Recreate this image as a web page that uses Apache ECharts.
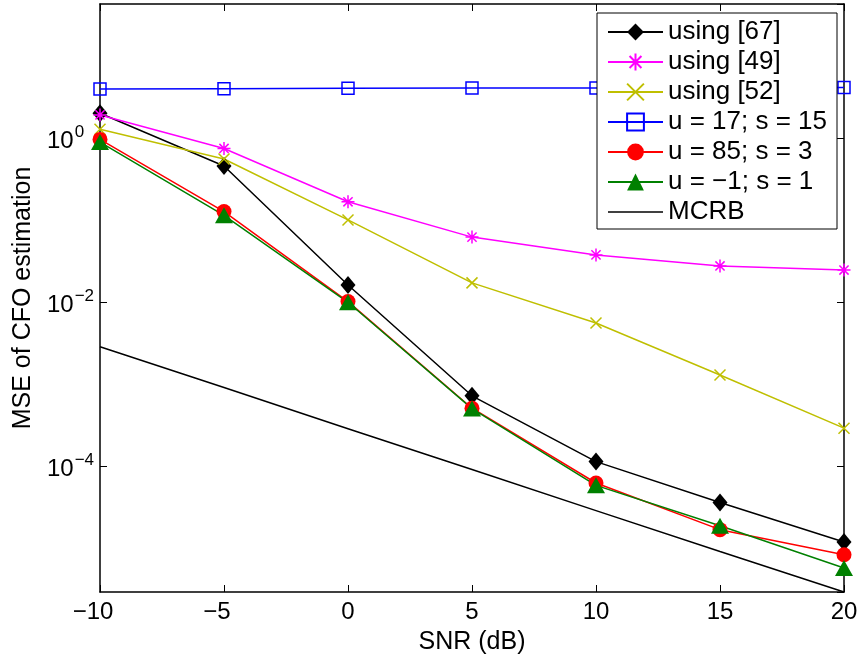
<!DOCTYPE html>
<html>
<head>
<meta charset="utf-8">
<script src="https://cdn.jsdelivr.net/npm/echarts@6/dist/echarts.min.js"></script>
<style>
html,body{margin:0;padding:0;background:#fff;}
#chart{width:861px;height:660px;}
</style>
</head>
<body>
<div id="chart"></div>
<script>
// ---- data ----
const snr = [-10, -5, 0, 5, 10, 15, 20];
const using67 = [2.04, 0.464, 0.0164, 7.3e-4, 1.15e-4, 3.64e-5, 1.2e-5];
const using49 = [1.95, 0.76, 0.17, 0.063, 0.0382, 0.028, 0.025];
const using52 = [1.30, 0.565, 0.102, 0.0174, 0.00565, 0.00131, 2.94e-4];
const u17s15 = [4.03, 4.06, 4.12, 4.15, 4.16, 4.17, 4.2];
const u85s3 = [0.98, 0.129, 0.0103, 5.15e-4, 6.3e-5, 1.7e-5, 8.4e-6];
const um1s1 = [0.91, 0.116, 0.0101, 5.1e-4, 5.9e-5, 1.9e-5, 5.8e-6];
const mcrb = [2.9e-3, 9.2e-4, 2.9e-4, 9.2e-5, 2.9e-5, 9.2e-6, 2.95e-6];
const seriesNames = ['using [67]', 'using [49]', 'using [52]', 'u = 17; s = 15', 'u = 85; s = 3', 'u = \u22121; s = 1', 'MCRB'];
const xTicks = {min: -10, max: 20, interval: 5};
const yRange = {min: 2.95e-6, max: 43.95};

const FONT = 'Liberation Sans';
const pairs = arr => snr.map((x, i) => [x, arr[i]]);

const ASTER = 'path://M0,-10L0,10M-10,0L10,0M-7.07,-7.07L7.07,7.07M-7.07,7.07L7.07,-7.07';
const XMARK = 'path://M-10,-10L10,10M-10,10L10,-10';
const SQUARE = 'path://M-10,-10L10,-10L10,10L-10,10Z';
const LINEICON = 'path://M0,0L55,0L55,1.5L0,1.5Z';

function mk(name, arr, color, symbol, size, itemStyle) {
  return {
    name: name, type: 'line', data: pairs(arr),
    symbol: symbol, symbolSize: size, showSymbol: symbol !== 'none',
    lineStyle: {color: color, width: 1.5},
    itemStyle: Object.assign({color: color}, itemStyle || {}),
    emphasis: {disabled: true}, animation: false, z: 2
  };
}

const series = [
  mk(seriesNames[0], using67, '#000000', 'diamond', [15, 18]),
  mk(seriesNames[1], using49, '#ff00ff', ASTER, 13, {color: 'rgba(0,0,0,0)', borderColor: '#ff00ff', borderWidth: 1.5}),
  mk(seriesNames[2], using52, '#bfbf00', XMARK, 11, {color: 'rgba(0,0,0,0)', borderColor: '#bfbf00', borderWidth: 1.5}),
  mk(seriesNames[3], u17s15, '#0000ff', SQUARE, 12, {color: 'rgba(0,0,0,0)', borderColor: '#0000ff', borderWidth: 1.5}),
  mk(seriesNames[4], u85s3, '#ff0000', 'circle', 15),
  mk(seriesNames[5], um1s1, '#008000', 'triangle', [18, 16]),
  mk(seriesNames[6], mcrb, '#000000', 'none', 0)
];

const legendData = seriesNames.map(n => n === 'MCRB' ? {name: n, icon: LINEICON} : {name: n});

const axisLineStyle = {color: '#000', width: 1.5};
const tickStyle = {color: '#000', width: 1};

const chart = echarts.init(document.getElementById('chart'), null, {renderer: 'canvas'});
chart.setOption({
  backgroundColor: '#fff',
  animation: false,
  grid: {left: 100, right: 17, top: 4, bottom: 68, containLabel: false},
  legend: {
    data: legendData,
    left: 597, top: 13, orient: 'vertical',
    padding: [6, 10, 4, 10],
    itemWidth: 55, itemHeight: 21, itemGap: 4,
    backgroundColor: '#fff', borderColor: '#000', borderWidth: 1,
    textStyle: {fontFamily: FONT, fontSize: 26, color: '#000'},
    selectedMode: false
  },
  xAxis: [{
    type: 'value', min: xTicks.min, max: xTicks.max, interval: xTicks.interval,
    name: 'SNR (dB)', nameLocation: 'middle', nameGap: 38,
    nameTextStyle: {fontFamily: FONT, fontSize: 25, color: '#000'},
    axisLine: {show: true, onZero: false, lineStyle: axisLineStyle},
    axisTick: {show: true, inside: true, length: 7, lineStyle: tickStyle},
    splitLine: {show: false},
    axisLabel: {
      margin: 8,
      formatter: v => v < 0 ? '{t|\u2212' + (-v) + '}{p| }' : '{t|' + v + '}',
      rich: {t: {fontFamily: FONT, fontSize: 24, color: '#000'}, p: {fontFamily: FONT, fontSize: 24, width: 14}}
    }
  }, {
    type: 'value', position: 'top', min: xTicks.min, max: xTicks.max, interval: xTicks.interval,
    axisLine: {show: true, onZero: false, lineStyle: axisLineStyle},
    axisTick: {show: true, inside: true, length: 7, lineStyle: tickStyle},
    axisLabel: {show: false}, splitLine: {show: false}
  }],
  yAxis: [{
    type: 'log', logBase: 100, min: yRange.min, max: yRange.max,
    name: 'MSE of CFO estimation', nameLocation: 'middle', nameGap: 64,
    nameTextStyle: {fontFamily: FONT, fontSize: 25, color: '#000'},
    axisLine: {show: true, onZero: false, lineStyle: axisLineStyle},
    axisTick: {show: true, inside: true, length: 7, lineStyle: tickStyle},
    minorTick: {show: false},
    splitLine: {show: false},
    axisLabel: {
      align: 'left', margin: 53, showMinLabel: false, showMaxLabel: false,
      formatter: v => {
        const e = Math.round(Math.log10(v));
        return '{b|10}{s|' + (e < 0 ? '\u2212' + (-e) : e) + '}';
      },
      rich: {
        b: {fontFamily: FONT, fontSize: 24, color: '#000', verticalAlign: 'bottom'},
        s: {fontFamily: FONT, fontSize: 17, color: '#000', verticalAlign: 'bottom', padding: [0, 0, 13, 1]}
      }
    }
  }, {
    type: 'log', logBase: 100, position: 'right', min: yRange.min, max: yRange.max,
    axisLine: {show: true, onZero: false, lineStyle: axisLineStyle},
    axisTick: {show: true, inside: true, length: 7, lineStyle: tickStyle},
    axisLabel: {show: false}, splitLine: {show: false}
  }],
  series: series
});
</script>
</body>
</html>
